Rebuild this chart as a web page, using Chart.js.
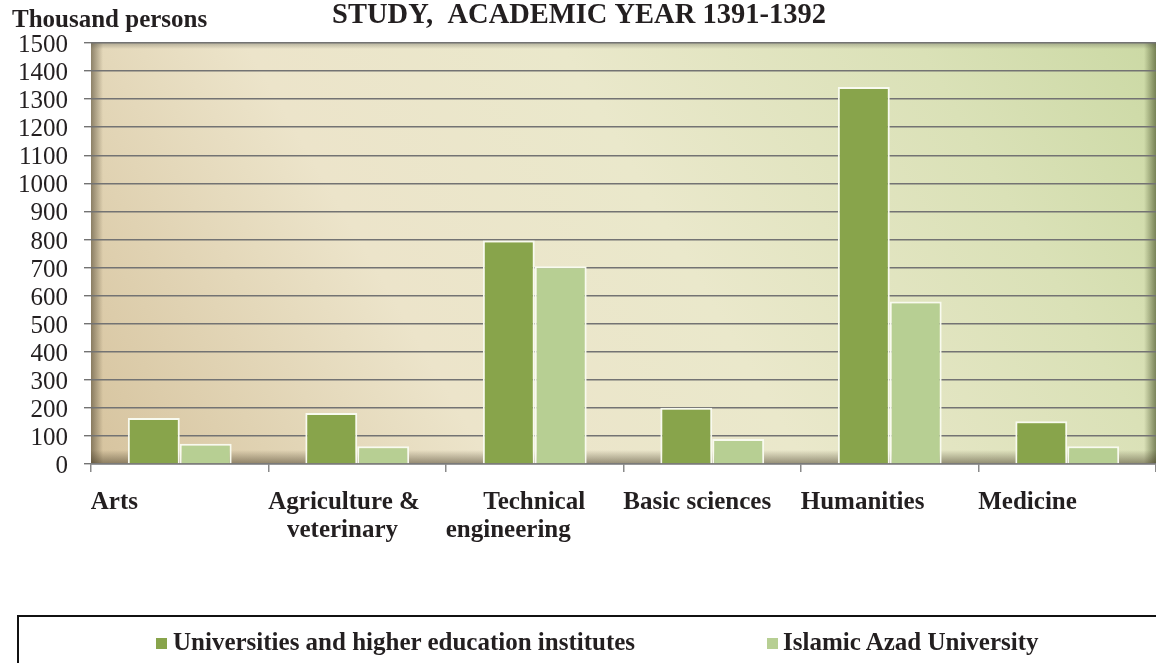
<!DOCTYPE html>
<html>
<head>
<meta charset="utf-8">
<script src="https://cdn.jsdelivr.net/npm/chart.js@4.4.1/dist/chart.umd.min.js"></script>
<style>
  html, body { margin: 0; padding: 0; background: #fff; }
  #wrap { position: relative; width: 1156px; height: 663px; overflow: hidden; }
  #chart { position: absolute; left: 0; top: 0; }
  #legend {
    position: absolute; left: 17px; top: 615px; width: 1160px; height: 80px;
    border: 2px solid #111; box-sizing: border-box;
    font: 700 25px 'Liberation Serif', 'Times New Roman', serif; color: #231f20;
  }
  #legend .item { position: absolute; top: 12px; height: 25px; line-height: 25px; white-space: nowrap; }
  #legend .item i { position: absolute; left: 0; top: 9px; width: 11px; height: 11px; }
</style>
</head>
<body>
<div id="wrap">
  <canvas id="chart" width="1156" height="663"></canvas>
  <div id="legend"></div>
</div>
<script>
// data (thousand persons)
const categories = [
  ['Arts'],
  ['Agriculture &', '   veterinary'],
  ['      Technical', 'engineering'],
  ['Basic sciences'],
  ['Humanities'],
  ['Medicine']
];
const seriesNames = ['Universities and higher education institutes', 'Islamic Azad University'];
const universities = [164, 182, 796, 200, 1343, 152];
const azad = [72, 63, 705, 89, 579, 63];
const yTicks = [0, 1500, 100]; // min, max, step

const DARK = '#88a44b';
const LIGHT = '#b7cf93';
const SERIF = "'Liberation Serif', 'Times New Roman', serif";

Chart.defaults.font.family = SERIF;
Chart.defaults.color = '#231f20';

// plot area background: beige -> cream -> green, with an inner shadow
const plotBg = {
  id: 'plotBg',
  beforeDraw(chart) {
    const { ctx, chartArea: a } = chart;
    const w = a.right - a.left, h = a.bottom - a.top;
    ctx.save();
    const g = ctx.createLinearGradient(a.left, a.bottom, a.right, a.top - 200);
    g.addColorStop(0, '#d6c39e');
    g.addColorStop(0.28, '#ece4ca');
    g.addColorStop(0.5, '#eae8cb');
    g.addColorStop(0.75, '#dae1b7');
    g.addColorStop(1, '#c4d59b');
    ctx.fillStyle = g;
    ctx.fillRect(a.left, a.top, w, h);

    // edge shadows
    let s = ctx.createLinearGradient(a.left, 0, a.left + 12, 0);
    s.addColorStop(0, 'rgba(70,60,40,0.55)');
    s.addColorStop(1, 'rgba(70,60,40,0)');
    ctx.fillStyle = s;
    ctx.fillRect(a.left, a.top, 12, h);

    s = ctx.createLinearGradient(a.right, 0, a.right - 12, 0);
    s.addColorStop(0, 'rgba(60,70,30,0.6)');
    s.addColorStop(1, 'rgba(60,70,30,0)');
    ctx.fillStyle = s;
    ctx.fillRect(a.right - 12, a.top, 12, h);

    s = ctx.createLinearGradient(0, a.bottom, 0, a.bottom - 14);
    s.addColorStop(0, 'rgba(60,50,30,0.5)');
    s.addColorStop(1, 'rgba(60,50,30,0)');
    ctx.fillStyle = s;
    ctx.fillRect(a.left, a.bottom - 14, w, 14);

    s = ctx.createLinearGradient(0, a.top, 0, a.top + 6);
    s.addColorStop(0, 'rgba(80,80,70,0.35)');
    s.addColorStop(1, 'rgba(80,80,70,0)');
    ctx.fillStyle = s;
    ctx.fillRect(a.left, a.top, w, 6);
    ctx.restore();
  },
  afterDraw(chart) {
    // unit label over the y axis
    const { ctx } = chart;
    ctx.save();
    ctx.font = '700 25px ' + SERIF;
    ctx.fillStyle = '#231f20';
    ctx.textAlign = 'left';
    ctx.textBaseline = 'alphabetic';
    ctx.fillText('Thousand persons', 12, 27);
    ctx.restore();
  }
};

const chart = new Chart(document.getElementById('chart'), {
  type: 'bar',
  data: {
    labels: categories,
    datasets: [
      { label: seriesNames[0], data: universities, backgroundColor: DARK },
      { label: seriesNames[1], data: azad, backgroundColor: LIGHT }
    ]
  },
  options: {
    responsive: false,
    animation: false,
    devicePixelRatio: 1,
    layout: { padding: { left: 2, right: 0, top: 0, bottom: 101 } },
    datasets: {
      bar: {
        categoryPercentage: 0.585,
        barPercentage: 1,
        borderColor: '#f8faef',
        borderWidth: 2
      }
    },
    plugins: {
      legend: { display: false },
      tooltip: { enabled: false },
      title: {
        display: true,
        text: 'STUDY,  ACADEMIC YEAR 1391-1392',
        color: '#231f20',
        font: { size: 28.5, weight: 'bold', lineHeight: 1 },
        padding: { top: 1, bottom: 13.5 }
      }
    },
    scales: {
      x: {
        grid: {
          display: true,
          drawOnChartArea: false,
          drawTicks: true,
          tickLength: 8,
          offset: true,
          color: '#8a8a8a',
          lineWidth: 1.5
        },
        border: { display: true, color: '#7a7a7a', width: 1.5 },
        ticks: {
          align: 'start',
          labelOffset: -89,
          padding: 17,
          maxRotation: 0,
          autoSkip: false,
          color: '#231f20',
          font: { size: 25, weight: 'bold', lineHeight: 1.12 }
        },
        afterFit(scale) {
          scale.paddingLeft = 0;
          scale.paddingRight = 0;
        }
      },
      y: {
        min: yTicks[0],
        max: yTicks[1],
        grid: {
          color: '#737373',
          lineWidth: 1.4,
          tickLength: 7,
          drawTicks: true
        },
        border: { display: false },
        ticks: {
          stepSize: yTicks[2],
          maxTicksLimit: 20,
          autoSkip: false,
          padding: 16,
          labelOffset: 2.5,
          color: '#231f20',
          font: { size: 25, weight: 'normal', lineHeight: 1 },
          callback: (v) => String(v)
        }
      }
    }
  },
  plugins: [plotBg]
});

// legend box under the chart, built from the chart's datasets
const legendEl = document.getElementById('legend');
const legendLeft = [137, 748];
chart.data.datasets.forEach((ds, i) => {
  const item = document.createElement('div');
  item.className = 'item';
  item.style.left = legendLeft[i] + 'px';
  item.style.paddingLeft = (i === 0 ? 17 : 16) + 'px';
  const sw = document.createElement('i');
  sw.style.background = ds.backgroundColor;
  item.appendChild(sw);
  item.appendChild(document.createTextNode(ds.label));
  legendEl.appendChild(item);
});
</script>
</body>
</html>
